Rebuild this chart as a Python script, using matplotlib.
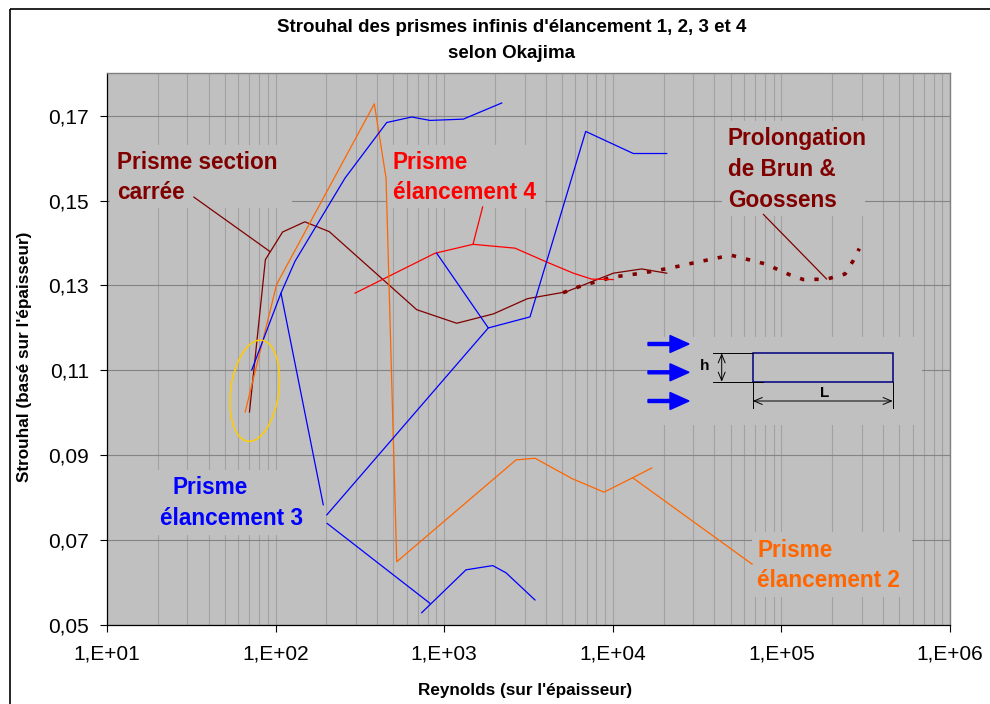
import matplotlib
matplotlib.use("Agg")
import matplotlib.pyplot as plt
import matplotlib.patches as mpatches
import matplotlib.transforms as mtransforms
from matplotlib.lines import Line2D
from matplotlib.ticker import LogLocator, NullFormatter

plt.rcParams["font.family"] = ["Liberation Sans", "DejaVu Sans"]

# Okajima : Strouhal vs Reynolds (sur l'épaisseur)
re_carre = [70, 87, 110, 149, 208, 687, 1186, 1956, 3120, 5280, 10070, 14840, 20880]
st_carre = [0.1002, 0.1361, 0.1426, 0.1450, 0.1427, 0.1243, 0.1211, 0.1233, 0.1269,
            0.1285, 0.1329, 0.1339, 0.1329]

# prolongation de Brun & Goossens
re_brun = [5065, 6390, 7660, 10070, 14840, 21840, 30720, 44250, 50730, 60830, 79930,
           112500, 134900, 185700, 238400, 267000, 289700]
st_brun = [0.1283, 0.1298, 0.1307, 0.1320, 0.1329, 0.1341, 0.1354, 0.1367, 0.1371,
           0.1363, 0.1351, 0.1325, 0.1314, 0.1315, 0.1327, 0.1359, 0.1387]

re_elan4 = [296, 882, 1482, 2629, 3962, 5832, 7495, 10070]
st_elan4 = [0.1282, 0.1376, 0.1397, 0.1388, 0.1357, 0.1329, 0.1315, 0.1314]

re_elan2 = [66, 101.5, 385, 452, 523, 2666, 3455, 5728, 8867, 13120, 17010]
st_elan2 = [0.1002, 0.1303, 0.1728, 0.1553, 0.0649, 0.0889, 0.0893, 0.0845, 0.0813,
            0.0847, 0.0870]

re_elan3_a = [72.2, 107.6, 130.3, 258, 456, 641.5, 823.7, 1298, 2193]
st_elan3_a = [0.1101, 0.1282, 0.1357, 0.1553, 0.1684, 0.1697, 0.1689, 0.1692, 0.1730]
re_elan3_b = [903, 1826, 3228, 6906, 13230, 20880]
st_elan3_b = [0.1376, 0.1200, 0.1226, 0.1663, 0.1611, 0.1611]
re_elan3_c = [735.5, 1347, 1940, 2326, 3455]
st_elan3_c = [0.0529, 0.0630, 0.0640, 0.0623, 0.0559]

y_ticks = [0.05, 0.07, 0.09, 0.11, 0.13, 0.15, 0.17]
y_tick_labels = ["0,05", "0,07", "0,09", "0,11", "0,13", "0,15", "0,17"]
x_ticks = [1e1, 1e2, 1e3, 1e4, 1e5, 1e6]
x_tick_labels = ["1,E+01", "1,E+02", "1,E+03", "1,E+04", "1,E+05", "1,E+06"]

DARKRED = "#800000"
RED = "#ff0000"
BLUE = "#0000ff"
ORANGE = "#ff6600"
GREY = "#c0c0c0"

W, H = 990, 704
fig = plt.figure(figsize=(W / 100, H / 100), dpi=100)
ax = fig.add_axes([107 / W, 1 - 625 / H, 843 / W, (625 - 73.3) / H])
# pixel coordinates measured from the top-left corner
tl = mtransforms.Affine2D().scale(1, -1).translate(0, H)

ax.set_facecolor(GREY)
ax.set_xscale("log")
ax.set_xlim(10, 1e6)
ax.set_ylim(0.05, 0.18)
ax.set_axisbelow(True)

ax.set_xticks(x_ticks, x_tick_labels)
ax.set_yticks(y_ticks, y_tick_labels)
ax.xaxis.set_minor_locator(LogLocator(base=10, subs=range(2, 10)))
ax.xaxis.set_minor_formatter(NullFormatter())
ax.tick_params(which="minor", length=0)
ax.tick_params(which="major", direction="out", length=5, width=0.8, labelsize=15)
ax.tick_params(axis="y", pad=8)
ax.tick_params(axis="x", pad=9)
ax.grid(axis="x", which="both", color="#a2a2a2", lw=0.8)
ax.grid(axis="y", which="major", color="#848484", lw=0.8)
for side in ("top", "right"):
    ax.spines[side].set_color("#808080")
    ax.spines[side].set_linewidth(1.0)
for side in ("left", "bottom"):
    ax.spines[side].set_color("black")
    ax.spines[side].set_linewidth(0.9)

# grey backgrounds behind the labels and the sketch, hiding the grid
boxes = [(110, 145, 292, 208), (386, 145, 545, 208), (150, 470, 326, 535),
         (752, 532, 912, 597), (722, 121, 865, 216), (648, 337, 922, 425)]
for x0, y0, x1, y1 in boxes:
    ax.add_patch(mpatches.Rectangle((x0, y0), x1 - x0, y1 - y0, transform=tl,
                                    facecolor=GREY, edgecolor="none", zorder=1,
                                    clip_on=False))

lw = 0.9
ax.plot(re_carre, st_carre, color=DARKRED, lw=lw, zorder=2)
ax.plot(re_brun, st_brun, color=DARKRED, lw=2.6, ls=(0, (1.2, 2.8)),
        dash_capstyle="butt", zorder=2)
ax.plot(re_elan4, st_elan4, color=RED, lw=lw, zorder=2)
ax.plot(re_elan2, st_elan2, color=ORANGE, lw=lw, zorder=2)
for xs, ys in ((re_elan3_a, st_elan3_a), (re_elan3_b, st_elan3_b), (re_elan3_c, st_elan3_c)):
    ax.plot(xs, ys, color=BLUE, lw=lw, zorder=2)

# yellow ring around the low Reynolds starts
ring = mpatches.Ellipse((0, 0), 48, 102, angle=-8, fill=False, edgecolor="#ffcc00", lw=1.1,
                        transform=mtransforms.ScaledTranslation(75.2, 0.1052, ax.transData),
                        zorder=2)
ax.add_patch(ring)


def label(x, y, s, color):
    ax.text(x, y, s, transform=tl, color=color, fontsize=16.3, fontweight="bold",
            ha="left", va="baseline", zorder=4)


def leader(start, target, color):
    ax.annotate("", xy=target, xycoords="data", xytext=start, textcoords=tl,
                arrowprops=dict(arrowstyle="-", color=color, lw=lw, shrinkA=0, shrinkB=0),
                zorder=3)


label(117, 169.3, "Prisme section", DARKRED)
label(117, 199.3, "carrée", DARKRED)
leader((193.7, 197), (92.6, 0.1380), DARKRED)

label(392.7, 169.3, "Prisme", RED)
label(392.7, 199.3, "élancement 4", RED)
leader((482.7, 206.7), (re_elan4[2], st_elan4[2]), RED)

label(172, 494, "Prisme", BLUE)
label(160, 525, "élancement 3", BLUE)
leader((323.3, 505), (re_elan3_a[1], st_elan3_a[1]), BLUE)
leader((326.7, 515), (re_elan3_b[1], st_elan3_b[1]), BLUE)
leader((327, 523.3), (823.7, 0.0551), BLUE)

label(757.3, 556.7, "Prisme", ORANGE)
label(757.3, 587.3, "élancement 2", ORANGE)
leader((752.3, 564.3), (re_elan2[9], st_elan2[9]), ORANGE)

label(727.7, 145.5, "Prolongation", DARKRED)
label(727.7, 176, "de Brun &", DARKRED)
label(727.7, 206.7, "Goossens", DARKRED)
leader((763.3, 214.3), (re_brun[13], st_brun[13]), DARKRED)

# sketch of the prism: flow arrows, section h x L
for y in (344, 372.3, 401):
    ax.add_patch(mpatches.FancyArrow(648, y, 41, 0, width=3, head_width=17, head_length=19,
                                     length_includes_head=True, color=BLUE, transform=tl,
                                     clip_on=False, zorder=3))
ax.add_patch(mpatches.Rectangle((752.7, 353.3), 140, 28.4, transform=tl, fill=False,
                                edgecolor="#000080", lw=1.1, zorder=3, clip_on=False))
for xs, ys in (((712.7, 752.7), (353.3, 353.3)), ((712.7, 763), (381.7, 381.7)),
               ((752.7, 752.7), (381.7, 408.3)), ((892.7, 892.7), (381.7, 408.3))):
    ax.add_line(Line2D(xs, ys, transform=tl, color="black", lw=0.7, zorder=3, clip_on=False))
for a, b in (((721.7, 353.3), (721.7, 381.7)), ((752.7, 401), (892.7, 401))):
    ax.add_patch(mpatches.FancyArrowPatch(a, b, arrowstyle="<->,head_length=6,head_width=2.5",
                                          mutation_scale=1, shrinkA=0, shrinkB=0, lw=0.7,
                                          color="black", transform=tl, zorder=3,
                                          clip_on=False))
ax.text(704.3, 365.7, "h", transform=tl, fontsize=11, fontweight="bold", ha="center",
        va="center", zorder=4)
ax.text(825, 393.3, "L", transform=tl, fontsize=11, fontweight="bold", ha="center",
        va="center", zorder=4)

fig.text(512, 31.7, "Strouhal des prismes infinis d'élancement 1, 2, 3 et 4", transform=tl,
         fontsize=13.5, fontweight="bold", ha="center", va="baseline")
fig.text(512, 57.7, "selon Okajima", transform=tl, fontsize=13.5, fontweight="bold",
         ha="center", va="baseline")

ax.set_xlabel("Reynolds (sur l'épaisseur)", fontsize=12.3, fontweight="bold", va="center")
ax.xaxis.set_label_coords((525 - 107) / 843, (625 - 690) / 551.7)
ax.set_ylabel("Strouhal (basé sur l'épaisseur)", fontsize=12.3, fontweight="bold",
              va="center")
ax.yaxis.set_label_coords((25 - 107) / 843, (625 - 357) / 551.7)

# chart frame
fig.add_artist(mpatches.Rectangle((10, 9), 3000, 3000, transform=tl, fill=False,
                                  edgecolor="black", lw=1.2))

fig.savefig("out.png", dpi=100)
